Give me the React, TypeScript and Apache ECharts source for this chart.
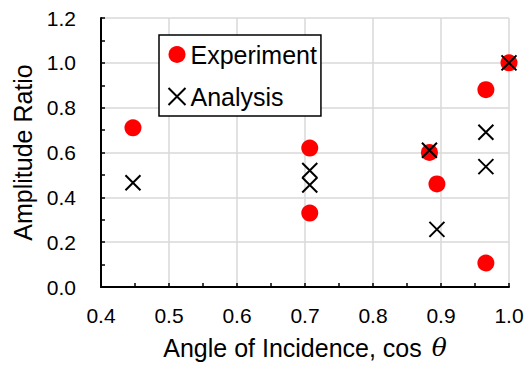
import React, { useEffect, useRef } from "react";
import * as echarts from "echarts";

const experimentX = [0.447, 0.707, 0.707, 0.883, 0.894, 0.966, 0.966, 1.0];
const experimentY = [0.71, 0.62, 0.33, 0.60, 0.46, 0.88, 0.107, 1.0];
const analysisX = [0.447, 0.707, 0.707, 0.883, 0.894, 0.966, 0.966, 1.0];
const analysisY = [0.465, 0.52, 0.455, 0.61, 0.257, 0.69, 0.537, 1.0];

const FONT = "'Liberation Sans', Arial, sans-serif";
const CROSS = "path://M0,0L10,10M10,0L0,10";

export default function App() {
  const ref = useRef<HTMLDivElement>(null);
  useEffect(() => {
    document.body.style.margin = "0";
    const chart = echarts.init(ref.current!, undefined, { renderer: "svg" });
    const expData = experimentX.map((x, i) => [x, experimentY[i]]);
    const anaData = analysisX.map((x, i) => [x, analysisY[i]]);
    chart.setOption({
      animation: false,
      backgroundColor: "#fff",
      textStyle: { fontFamily: FONT },
      grid: { left: 101, right: 22, top: 18, bottom: 75 },
      legend: {
        orient: "vertical",
        left: 159,
        top: 35,
        padding: [7, 4, 7, 7],
        itemGap: 17,
        itemWidth: 17,
        itemHeight: 17,
        borderColor: "#000",
        borderWidth: 1.5,
        backgroundColor: "#fff",
        textStyle: { fontFamily: FONT, fontSize: 25, color: "#000" },
        data: [
          { name: "Experiment", icon: "circle" },
          { name: "Analysis", icon: CROSS },
        ],
      },
      xAxis: {
        type: "value",
        min: 0.4,
        max: 1.0,
        interval: 0.1,
        name: "Angle of Incidence, cos {i|\u03b8}",
        nameLocation: "middle",
        nameGap: 48,
        nameTextStyle: {
          fontFamily: FONT,
          fontSize: 25,
          color: "#000",
          rich: { i: { fontFamily: "'DejaVu Serif', serif", fontStyle: "italic", fontSize: 25, color: "#000", padding: [0, 0, 0, 3] } },
        },
        axisLine: { show: true, lineStyle: { color: "#000", width: 2 } },
        axisTick: { show: true, inside: true, length: 4, lineStyle: { color: "#000", width: 1.5 } },
        minorTick: { show: true, splitNumber: 2, length: 4, lineStyle: { color: "#000", width: 1.5 } },
        axisLabel: {
          margin: 18,
          fontFamily: FONT,
          fontSize: 21,
          color: "#000",
          formatter: (v: number) => v.toFixed(1),
        },
        splitLine: { show: true, lineStyle: { color: "#d9d9d9", width: 1.5 } },
      },
      yAxis: {
        type: "value",
        min: 0,
        max: 1.2,
        interval: 0.2,
        name: "Amplitude Ratio",
        nameLocation: "middle",
        nameGap: 66,
        nameTextStyle: { fontFamily: FONT, fontSize: 25, color: "#000" },
        axisLine: { show: true, lineStyle: { color: "#000", width: 2 } },
        axisTick: { show: true, inside: true, length: 4, lineStyle: { color: "#000", width: 1.5 } },
        minorTick: { show: true, splitNumber: 2, length: 4, lineStyle: { color: "#000", width: 1.5 } },
        axisLabel: {
          margin: 25,
          fontFamily: FONT,
          fontSize: 21,
          color: "#000",
          formatter: (v: number) => v.toFixed(1),
        },
        splitLine: { show: true, lineStyle: { color: "#d9d9d9", width: 1.5 } },
      },
      series: [
        {
          name: "Experiment",
          type: "scatter",
          symbol: "circle",
          symbolSize: 17,
          itemStyle: { color: "#ff0000", opacity: 1 },
          data: expData,
          z: 2,
        },
        {
          name: "Analysis",
          type: "scatter",
          symbol: CROSS,
          symbolSize: 15,
          itemStyle: { color: "none", borderColor: "#000", borderWidth: 2, opacity: 1 },
          data: anaData,
          z: 3,
        },
      ],
    });
    return () => chart.dispose();
  }, []);
  return <div ref={ref} style={{ width: 531, height: 365, position: "fixed", left: 0, top: 0 }} />;
}
